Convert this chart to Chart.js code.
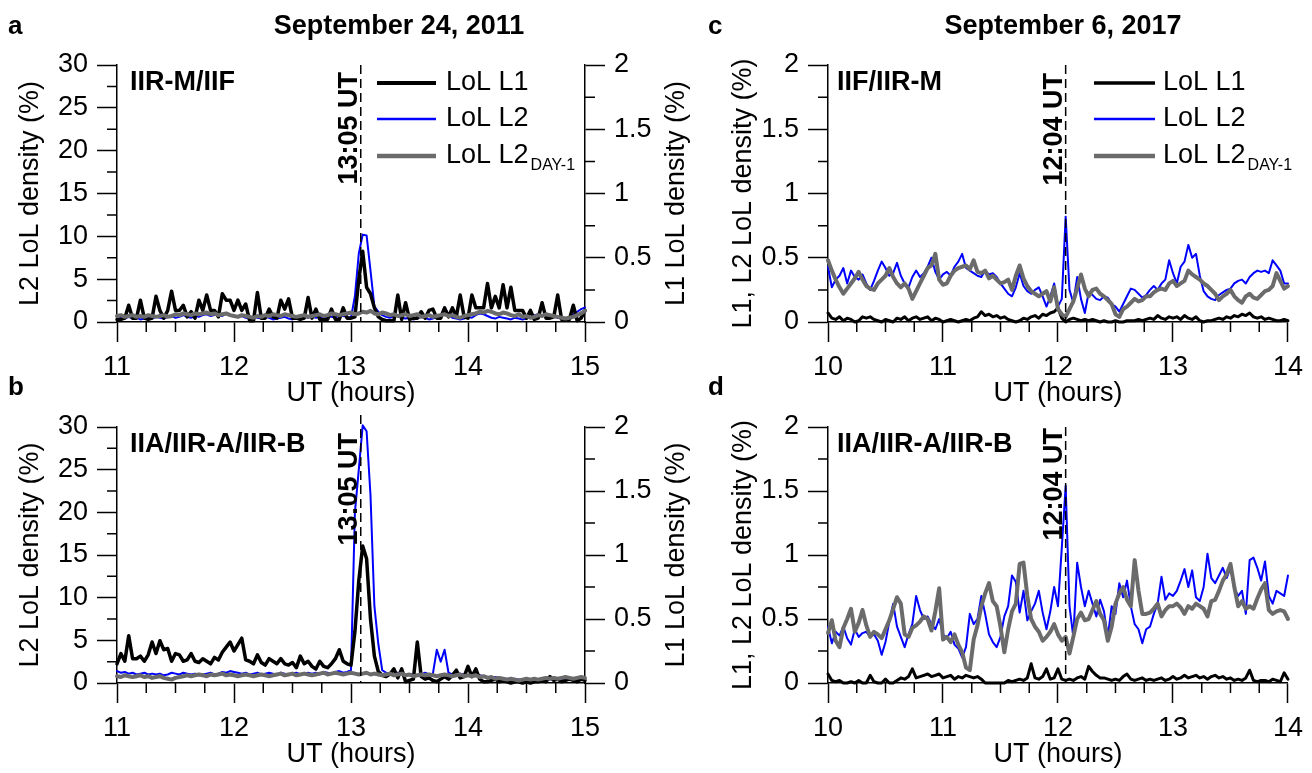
<!DOCTYPE html>
<html>
<head>
<meta charset="utf-8">
<title>LoL density</title>
<script src="https://cdn.jsdelivr.net/npm/chart.js@4.4.1/dist/chart.umd.min.js"></script>
<style>
  html, body { margin: 0; background: #fff; }
  #page { position: relative; width: 1312px; height: 773px; overflow: hidden; background: #fff; }
  canvas { position: absolute; }
</style>
</head>
<body>
<div id="page">
  <canvas id="panelA" width="700" height="412" style="left:0px;top:0px"></canvas>
  <canvas id="panelB" width="700" height="412" style="left:0px;top:361px"></canvas>
  <canvas id="panelC" width="656" height="412" style="left:656px;top:0px"></canvas>
  <canvas id="panelD" width="656" height="412" style="left:656px;top:361px"></canvas>
</div>
<script>
const FONT = '"Liberation Sans", Arial, sans-serif';
Chart.defaults.font.family = FONT;
Chart.defaults.color = "#000";

// one sample every 2 minutes over the 4 hour window
const sampleHours = (start) => Array.from({ length: 121 }, (_, i) => start + i / 30);
const utAB = sampleHours(11);
const utCD = sampleHours(10);

const hourTicksAB = [11, 12, 13, 14, 15];
const hourTicksCD = [10, 11, 12, 13, 14];
const l2Ticks = [0, 5, 10, 15, 20, 25, 30];
const l1Ticks = [0, 0.5, 1, 1.5, 2];

const markerAB = { hour: 13 + 5 / 60, label: "13:05 UT" };
const markerCD = { hour: 12 + 4 / 60, label: "12:04 UT" };

// a: September 24, 2011, IIR-M/IIF
const l1A = [0.02,0.02,0.03,0.13,0.03,0.03,0.17,0.03,0.02,0.03,
  0.2,0.09,0.03,0.09,0.24,0.09,0.09,0.13,0.04,0.08,
  0.03,0.17,0.09,0.21,0.09,0.09,0.04,0.22,0.17,0.17,
  0.09,0.17,0.09,0.14,0.01,0.01,0.23,0.03,0.03,0.1,
  0.04,0.03,0.17,0.1,0.18,0.03,0.03,0.02,0.03,0.19,
  0.03,0.1,0.02,0.02,0.02,0.1,0.02,0.02,0.11,0.03,
  0.03,0.04,0.33,0.55,0.27,0.22,0.11,0.04,0.02,0.01,
  0.01,0.01,0.21,0.02,0.15,0.02,0.03,0.03,0.08,0.03,
  0.09,0.1,0.03,0.03,0.11,0.04,0.11,0.04,0.21,0.04,
  0.03,0.21,0.11,0.11,0.11,0.3,0.11,0.2,0.11,0.29,
  0.11,0.27,0.09,0.09,0.09,0.03,0.09,0.02,0.03,0.15,
  0.03,0.03,0.04,0.21,0.02,0.02,0.02,0.13,0.01,0.03,
  0.09];
const l2A = [0.3,0.5,0.4,0.6,0.4,0.5,0.3,0.4,0.5,0.4,
  0.6,0.5,0.4,0.6,0.7,0.5,0.6,0.8,0.6,0.5,
  0.7,0.6,0.8,0.9,0.7,0.8,0.9,0.7,1.0,0.8,
  0.7,0.6,0.7,0.5,0.4,0.6,0.5,0.4,0.6,0.5,
  0.3,0.4,0.5,0.6,0.4,0.3,0.5,0.4,0.6,0.5,
  0.7,0.5,0.6,0.4,0.7,0.6,0.5,0.8,0.7,0.6,
  0.5,3.0,8.0,10.2,10.1,6.0,1.8,1.2,0.8,0.6,
  0.5,0.7,0.8,0.5,0.4,0.5,0.3,0.4,0.6,0.5,
  0.3,0.4,0.6,0.8,1.7,0.9,0.5,0.4,0.3,0.4,
  0.6,0.5,0.8,1.0,0.9,0.7,0.5,0.4,0.6,0.5,
  0.4,0.3,0.5,0.4,0.3,0.4,0.6,0.8,0.9,0.8,
  0.8,0.7,0.6,0.5,0.4,0.3,0.6,0.9,1.2,1.5,
  1.7];
const l2PrevA = [0.7,0.8,0.6,0.7,0.8,0.6,0.7,0.6,0.8,0.7,
  0.6,0.7,0.8,0.6,0.7,0.9,0.8,1.0,0.9,0.8,
  1.0,0.9,1.0,1.1,0.9,1.0,0.8,0.9,1.0,0.8,
  0.7,0.6,0.8,0.7,0.6,0.5,0.7,0.6,0.8,0.7,
  0.9,0.8,0.7,0.9,0.8,0.7,0.6,0.7,0.8,0.6,
  0.7,0.8,0.9,0.7,0.8,1.0,0.9,0.8,0.9,1.0,
  1.1,0.9,1.0,1.2,1.1,1.3,1.0,0.9,1.1,1.0,
  0.8,0.9,0.7,0.8,0.9,0.7,0.8,0.9,0.6,0.7,
  0.8,0.6,0.7,0.8,0.9,0.7,0.8,0.6,0.5,0.7,
  0.8,0.9,1.0,1.2,1.1,1.3,1.2,1.0,0.9,1.1,
  1.0,0.8,0.7,0.9,0.6,0.7,0.5,0.6,0.8,0.7,
  0.9,0.8,0.7,0.6,0.5,0.4,0.5,0.6,0.8,1.0,
  1.3];

// b: September 24, 2011, IIA/IIR-A/IIR-B
const l1B = [0.15,0.23,0.17,0.37,0.19,0.19,0.21,0.17,0.22,0.32,
  0.23,0.33,0.26,0.27,0.17,0.23,0.22,0.17,0.18,0.23,
  0.17,0.16,0.19,0.17,0.15,0.2,0.18,0.24,0.28,0.32,
  0.25,0.3,0.35,0.18,0.17,0.15,0.22,0.16,0.14,0.19,
  0.17,0.15,0.19,0.15,0.14,0.16,0.12,0.21,0.15,0.17,
  0.13,0.11,0.17,0.13,0.12,0.15,0.19,0.26,0.17,0.15,
  0.14,0.4,0.8,1.07,0.97,0.5,0.21,0.09,0.06,0.05,
  0.07,0.11,0.04,0.11,0.01,0.02,0.03,0.32,0.05,0.03,
  0.04,0.02,0.01,0.03,0.05,0.03,0.06,0.1,0.04,0.05,
  0.13,0.05,0.11,0.03,0.01,0.01,0.02,0.03,0.01,0.02,
  0.01,0,0.01,0.01,0,0.01,0,0.01,0.01,0.02,
  0.01,0.05,0.02,0.03,0.01,0.02,0.03,0.02,0.01,0.03,
  0.02];
const l2B = [1.4,1.2,1.3,1.1,1.2,1.0,1.1,1.2,1.0,1.1,
  1.0,1.1,0.9,1.0,1.2,1.1,1.0,1.2,1.1,1.0,
  1.1,0.9,1.0,1.1,1.2,1.0,1.1,1.3,1.2,1.4,
  1.3,1.2,1.1,1.2,1.0,1.1,1.2,1.0,1.1,1.2,
  1.1,1.0,1.2,1.1,1.0,1.1,1.2,1.0,1.1,1.2,
  1.1,1.2,1.0,1.3,1.2,1.1,1.3,1.4,1.2,1.3,
  1.5,20,25,30.2,29.5,22,9,4.6,1.5,1.2,
  1.1,1.0,1.2,1.1,0.9,1.0,1.1,0.9,1.0,1.2,
  1.0,1.1,3.9,2.5,3.9,1.2,1.0,0.9,1.1,1.0,
  0.9,0.8,1.0,0.9,0.8,0.7,0.6,0.7,0.6,0.5,
  0.5,0.4,0.5,0.4,0.3,0.4,0.3,0.4,0.3,0.4,
  0.5,0.4,0.5,0.6,0.5,0.4,0.5,0.6,0.5,0.6,
  0.6];
const l2PrevB = [0.8,0.7,0.9,0.8,0.7,0.8,0.9,0.7,0.8,0.6,
  0.7,0.8,0.6,0.5,0.4,0.6,0.7,0.8,0.9,0.8,
  0.9,1.0,0.9,0.8,1.0,0.9,1.0,1.1,0.9,1.0,
  0.9,0.8,0.9,1.0,0.9,0.8,0.9,1.0,0.9,0.8,
  0.9,1.0,1.1,0.9,1.0,1.1,0.9,1.0,1.1,1.0,
  0.9,1.0,1.1,1.2,1.0,1.1,1.2,1.1,1.0,1.1,
  1.2,1.1,1.0,1.1,1.2,1.0,1.1,1.0,0.9,1.0,
  1.1,0.9,1.0,1.1,0.9,1.0,0.8,0.9,1.0,0.9,
  1.0,0.9,0.8,0.9,1.0,0.9,0.8,0.9,1.0,0.8,
  0.9,0.8,0.9,0.7,0.8,0.6,0.7,0.5,0.6,0.5,
  0.4,0.5,0.4,0.3,0.4,0.5,0.4,0.5,0.4,0.5,
  0.6,0.5,0.6,0.5,0.6,0.7,0.6,0.5,0.6,0.7,
  0.6];

// c: September 6, 2017, IIF/IIR-M
const l1C = [0.07,0.03,0.02,0.04,0.01,0.03,0.02,0,0.01,0.04,
  0.03,0.04,0.02,0.01,0,0.02,0.01,0,0.03,0.02,
  0.04,0.01,0.03,0.04,0.02,0.03,0.04,0.01,0.03,0.02,
  0,0.01,0.02,0.01,0,0.01,0.02,0.01,0.03,0.04,
  0.08,0.05,0.06,0.04,0.05,0.03,0.04,0.02,0.01,0,
  0.01,0.03,0.02,0.04,0.05,0.03,0.06,0.05,0.07,0.08,
  0.11,0.03,0,0.02,0.03,0.02,0.01,0.02,0.01,0.02,
  0.01,0,0.01,0,0,0.01,0,0,0.01,0.01,
  0.01,0.02,0.01,0.02,0.03,0.02,0.05,0.03,0.02,0.04,
  0.03,0.04,0.02,0.05,0.03,0.02,0.04,0.01,0,0.01,
  0.01,0.02,0.03,0.02,0.04,0.03,0.05,0.04,0.06,0.05,
  0.07,0.04,0.03,0.04,0.02,0.03,0.02,0.01,0.01,0.02,
  0.01];
const l2C = [0.43,0.27,0.33,0.36,0.42,0.3,0.4,0.35,0.33,0.37,
  0.3,0.25,0.32,0.4,0.47,0.42,0.36,0.38,0.46,0.36,
  0.3,0.27,0.35,0.4,0.35,0.38,0.43,0.5,0.39,0.33,
  0.37,0.39,0.36,0.43,0.47,0.53,0.42,0.4,0.38,0.36,
  0.35,0.4,0.37,0.38,0.35,0.3,0.26,0.22,0.2,0.27,
  0.38,0.28,0.24,0.22,0.25,0.27,0.2,0.12,0.2,0.3,
  0.12,0.18,0.82,0.25,0.15,0.35,0.18,0.07,0.23,0.21,
  0.18,0.17,0.2,0.19,0.14,0.12,0.08,0.14,0.2,0.26,
  0.25,0.22,0.19,0.21,0.25,0.28,0.25,0.3,0.33,0.48,
  0.38,0.3,0.43,0.47,0.6,0.5,0.53,0.36,0.24,0.2,
  0.18,0.17,0.21,0.23,0.25,0.26,0.3,0.32,0.33,0.3,
  0.35,0.38,0.4,0.39,0.4,0.38,0.48,0.44,0.4,0.3,
  0.3];
const l2PrevC = [0.48,0.4,0.33,0.27,0.22,0.26,0.3,0.34,0.39,0.33,
  0.28,0.26,0.25,0.3,0.33,0.36,0.42,0.35,0.3,0.27,
  0.3,0.26,0.18,0.24,0.3,0.36,0.42,0.44,0.53,0.33,
  0.29,0.3,0.36,0.4,0.42,0.43,0.44,0.41,0.48,0.39,
  0.38,0.4,0.34,0.36,0.33,0.3,0.31,0.33,0.25,0.36,
  0.44,0.34,0.28,0.24,0.22,0.2,0.22,0.24,0.16,0.27,
  0.1,0.06,0.04,0.1,0.16,0.26,0.37,0.26,0.2,0.25,
  0.26,0.22,0.2,0.17,0.14,0.06,0.04,0.1,0.12,0.15,
  0.18,0.16,0.17,0.2,0.2,0.23,0.25,0.26,0.25,0.3,
  0.32,0.28,0.3,0.32,0.4,0.37,0.35,0.33,0.3,0.28,
  0.25,0.22,0.17,0.2,0.22,0.25,0.2,0.17,0.15,0.2,
  0.22,0.19,0.18,0.21,0.24,0.25,0.28,0.38,0.32,0.26,
  0.28];

// d: September 6, 2017, IIA/IIR-A/IIR-B
const l1D = [0.07,0.02,0.01,0.02,0,0,0.01,0,0.02,0,
  0,0.06,0.01,0,0,0.03,0,0,0.02,0.04,
  0.03,0.05,0.11,0.04,0.05,0.06,0.07,0.05,0.06,0.07,
  0.04,0.05,0.06,0.03,0.05,0.04,0.06,0.05,0.04,0.05,
  0.03,0,0,0,0,0,0,0.02,0.01,0.02,
  0.03,0.02,0.04,0.15,0.04,0.03,0.05,0.11,0.03,0.04,
  0.11,0.03,0.02,0.03,0.02,0.04,0.05,0.03,0.13,0.09,
  0.06,0.04,0.04,0.03,0.02,0.03,0.02,0.05,0.07,0.03,
  0.02,0.03,0.04,0.02,0.03,0.02,0.03,0.04,0.02,0.03,
  0.05,0.03,0.04,0.06,0.04,0.05,0.06,0.04,0.05,0.03,
  0.05,0.06,0.04,0.05,0.03,0.04,0.02,0.03,0.02,0.04,
  0.1,0.02,0.01,0.02,0.02,0.01,0.03,0.02,0.01,0.08,
  0.03];
const l2D = [0.44,0.31,0.4,0.37,0.44,0.35,0.3,0.42,0.36,0.39,
  0.4,0.36,0.38,0.33,0.22,0.32,0.48,0.62,0.44,0.36,
  0.28,0.38,0.46,0.68,0.57,0.5,0.52,0.46,0.42,0.5,
  0.38,0.35,0.4,0.3,0.27,0.2,0.28,0.54,0.46,0.5,
  0.68,0.54,0.38,0.32,0.28,0.36,0.52,0.6,0.84,0.79,
  0.55,0.72,0.49,0.56,0.62,0.72,0.55,0.42,0.56,0.75,
  0.6,1.06,1.54,0.6,0.36,0.94,0.75,0.6,0.72,0.62,
  0.52,0.65,0.56,0.36,0.6,0.54,0.78,0.67,0.8,0.6,
  0.46,0.42,0.31,0.42,0.44,0.54,0.62,0.83,0.65,0.7,
  0.68,0.72,0.8,0.89,0.75,0.88,0.67,0.64,0.75,1.01,
  0.82,0.78,0.84,0.9,0.82,0.9,0.74,0.68,0.72,0.54,
  0.96,0.98,0.9,0.8,0.95,0.68,0.62,0.72,0.7,0.68,
  0.84];
const l2PrevD = [0.39,0.49,0.33,0.28,0.43,0.5,0.58,0.4,0.47,0.57,
  0.45,0.36,0.4,0.38,0.35,0.42,0.49,0.58,0.67,0.62,
  0.38,0.36,0.43,0.45,0.48,0.52,0.5,0.41,0.56,0.74,
  0.34,0.36,0.32,0.38,0.3,0.24,0.12,0.1,0.34,0.45,
  0.6,0.7,0.78,0.64,0.6,0.44,0.24,0.42,0.56,0.62,
  0.93,0.94,0.68,0.5,0.44,0.4,0.33,0.36,0.4,0.46,
  0.38,0.33,0.36,0.23,0.36,0.5,0.55,0.49,0.5,0.57,
  0.64,0.54,0.49,0.33,0.44,0.62,0.7,0.75,0.65,0.6,
  0.96,0.72,0.54,0.54,0.55,0.58,0.62,0.52,0.57,0.6,
  0.6,0.62,0.59,0.54,0.6,0.58,0.62,0.6,0.58,0.52,
  0.64,0.65,0.72,0.8,0.85,0.93,0.75,0.6,0.64,0.58,
  0.6,0.58,0.66,0.73,0.78,0.57,0.54,0.56,0.57,0.56,
  0.5];

const series = (t, v) => v.map((y, i) => ({ x: t[i], y }));
const useTicks = (values) => (scale) => { scale.ticks = values.map((value) => ({ value })); };

// short ticks between the labelled ones
const minorTicks = {
  id: "minorTicks",
  afterDraw(chart, _args, opts) {
    const { ctx } = chart;
    ctx.save();
    ctx.strokeStyle = "#000";
    ctx.lineWidth = 1.5;
    ctx.beginPath();
    Object.entries(opts.steps || {}).forEach(([id, step]) => {
      const scale = chart.scales[id];
      const majors = scale.ticks.map((t) => t.value);
      for (let v = scale.min + step; v < scale.max; v += step) {
        if (majors.some((m) => Math.abs(m - v) < 1e-6)) continue;
        const p = scale.getPixelForValue(v);
        if (scale.isHorizontal()) {
          ctx.moveTo(p, scale.top); ctx.lineTo(p, scale.top + 10);
        } else if (scale.position === "left") {
          ctx.moveTo(scale.right, p); ctx.lineTo(scale.right - 10, p);
        } else {
          ctx.moveTo(scale.left, p); ctx.lineTo(scale.left + 10, p);
        }
      }
    });
    ctx.stroke();
    ctx.restore();
  }
};

const text = (ctx, str, x, y, font, align = "left") => {
  ctx.font = font + " " + FONT;
  ctx.textAlign = align;
  ctx.textBaseline = "middle";
  ctx.fillText(str, x, y);
};

// event line, panel letters, titles and the legend
const decor = {
  id: "decor",
  afterDraw(chart, _args, o) {
    const { ctx, chartArea: area } = chart;
    const x = chart.scales.x.getPixelForValue(o.marker.hour);
    ctx.save();
    ctx.fillStyle = "#000";
    ctx.strokeStyle = "#000";
    ctx.lineWidth = 1.5;
    ctx.setLineDash([9, 5]);
    ctx.beginPath();
    ctx.moveTo(x, area.top - o.lineAbove);
    ctx.lineTo(x, area.bottom);
    ctx.stroke();
    ctx.setLineDash([]);

    ctx.save();
    ctx.translate(x - 4, area.top + o.labelTop);
    ctx.rotate(-Math.PI / 2);
    ctx.font = "bold 27px " + FONT;
    ctx.textAlign = "right";
    ctx.textBaseline = "alphabetic";
    ctx.fillText(o.marker.label, 0, 0);
    ctx.restore();

    text(ctx, o.letter, o.letterX, 27, "bold 26px");
    if (o.title) text(ctx, o.title, o.titleX, 27, "bold 27px", "center");
    text(ctx, o.name, area.left + o.nameX, area.top + 18, "bold 27px");

    if (o.rightTitle) {
      ctx.save();
      ctx.translate(o.rightTitleX, (area.top + area.bottom) / 2);
      ctx.rotate(-Math.PI / 2);
      text(ctx, o.rightTitle, 0, 0, "27px", "center");
      ctx.restore();
    }

    if (o.legend) {
      const rows = [18, 54, 91];
      chart.data.datasets.forEach((ds, i) => {
        const y = area.top + rows[i];
        ctx.strokeStyle = ds.borderColor;
        ctx.lineWidth = ds.borderWidth + 0.5;
        ctx.beginPath();
        ctx.moveTo(area.left + o.legend.x0, y);
        ctx.lineTo(area.left + o.legend.x1, y);
        ctx.stroke();
        text(ctx, ds.label, area.left + o.legend.tx, y, "27px");
        if (ds.legendSub) {
          const w = ctx.measureText(ds.label).width;
          text(ctx, ds.legendSub, area.left + o.legend.tx + w + 2, y + 10, "16px");
        }
      });
    }
    ctx.restore();
  }
};

const axisStyle = () => ({
  border: { display: true, color: "#000", width: 1.5 },
  grid: { drawOnChartArea: false, drawTicks: true, tickLength: 20, tickColor: "#000", tickWidth: 1.5 },
  ticks: { color: "#000", font: { size: 27 }, padding: 9, autoSkip: false, maxRotation: 0, callback: (v) => String(v) }
});

const makePanel = (id, p) => {
  const canvas = document.getElementById(id);
  const width = canvas.width;
  const scales = {
    x: {
      ...axisStyle(),
      type: "linear",
      min: p.hours[0],
      max: p.hours[p.hours.length - 1],
      afterBuildTicks: useTicks(p.hours),
      afterFit: (s) => { s.height = 90; },
      title: { display: true, text: "UT (hours)", color: "#000", font: { size: 27 }, padding: { top: 0, bottom: 2 } }
    },
    y: {
      ...axisStyle(),
      position: "left",
      min: p.leftTicks[0],
      max: p.leftTicks[p.leftTicks.length - 1],
      afterBuildTicks: useTicks(p.leftTicks),
      afterFit: (s) => { s.width = p.leftWidth; },
      title: { display: true, text: p.leftTitle, color: "#000", font: { size: 27 }, padding: { top: p.leftTitlePad, bottom: 0 } }
    }
  };
  if (p.dual) {
    scales.y1 = {
      ...axisStyle(),
      position: "right",
      min: 0,
      max: 2,
      afterBuildTicks: useTicks(l1Ticks),
      afterFit: (s) => { s.width = width - 585; }
    };
  }
  return new Chart(canvas, {
    type: "line",
    data: {
      datasets: [
        { label: "LoL L1", data: series(p.t, p.l1), yAxisID: p.dual ? "y1" : "y", borderColor: "#000000", borderWidth: p.dual ? 3.5 : 3, order: 2 },
        { label: "LoL L2", data: series(p.t, p.l2), yAxisID: "y", borderColor: "#0000ff", borderWidth: 2, order: 3 },
        { label: "LoL L2", legendSub: "DAY-1", data: series(p.t, p.prev), yAxisID: "y", borderColor: "#6b6b6b", borderWidth: 4, order: 1 }
      ]
    },
    options: {
      responsive: false,
      animation: false,
      devicePixelRatio: 1,
      events: [],
      layout: { padding: { left: 0, top: p.padTop, right: p.dual ? 0 : 16, bottom: 0 } },
      elements: {
        point: { radius: 0 },
        line: { tension: 0, fill: false, borderJoinStyle: "round", borderCapStyle: "round" }
      },
      datasets: { line: { clip: false } },
      scales,
      plugins: {
        legend: { display: false },
        tooltip: { enabled: false },
        minorTicks: { steps: p.dual ? { x: 0.25, y: 2.5, y1: 0.25 } : { x: 0.25, y: 0.25 } },
        decor: p.decor
      }
    },
    plugins: [minorTicks, decor]
  });
};

makePanel("panelA", {
  t: utAB, hours: hourTicksAB, dual: true, l1: l1A, l2: l2A, prev: l2PrevA,
  leftTicks: l2Ticks, leftWidth: 117, leftTitle: "L2 LoL density (%)", leftTitlePad: 14, padTop: 65,
  decor: { marker: markerAB, lineAbove: 0, labelTop: 7, letter: "a", letterX: 8,
    title: "September 24, 2011", titleX: 399, name: "IIR-M/IIF", nameX: 13,
    rightTitle: "L1 LoL density (%)", rightTitleX: 677,
    legend: { x0: 260, x1: 319, tx: 329 } }
});

makePanel("panelB", {
  t: utAB, hours: hourTicksAB, dual: true, l1: l1B, l2: l2B, prev: l2PrevB,
  leftTicks: l2Ticks, leftWidth: 117, leftTitle: "L2 LoL density (%)", leftTitlePad: 14, padTop: 66,
  decor: { marker: markerAB, lineAbove: 12, labelTop: 6, letter: "b", letterX: 8,
    name: "IIA/IIR-A/IIR-B", nameX: 13,
    rightTitle: "L1 LoL density (%)", rightTitleX: 677 }
});

makePanel("panelC", {
  t: utCD, hours: hourTicksCD, dual: false, l1: l1C, l2: l2C, prev: l2PrevC,
  leftTicks: l1Ticks, leftWidth: 172, leftTitle: "L1, L2 LoL density (%)", leftTitlePad: 71, padTop: 65,
  decor: { marker: markerCD, lineAbove: 0, labelTop: 8, letter: "c", letterX: 52,
    title: "September 6, 2017", titleX: 407, name: "IIF/IIR-M", nameX: 9,
    legend: { x0: 266, x1: 327, tx: 335 } }
});

makePanel("panelD", {
  t: utCD, hours: hourTicksCD, dual: false, l1: l1D, l2: l2D, prev: l2PrevD,
  leftTicks: l1Ticks, leftWidth: 172, leftTitle: "L1, L2 LoL density (%)", leftTitlePad: 71, padTop: 66,
  decor: { marker: markerCD, lineAbove: 0, labelTop: 1, letter: "d", letterX: 52,
    name: "IIA/IIR-A/IIR-B", nameX: 9 }
});
</script>
</body>
</html>
